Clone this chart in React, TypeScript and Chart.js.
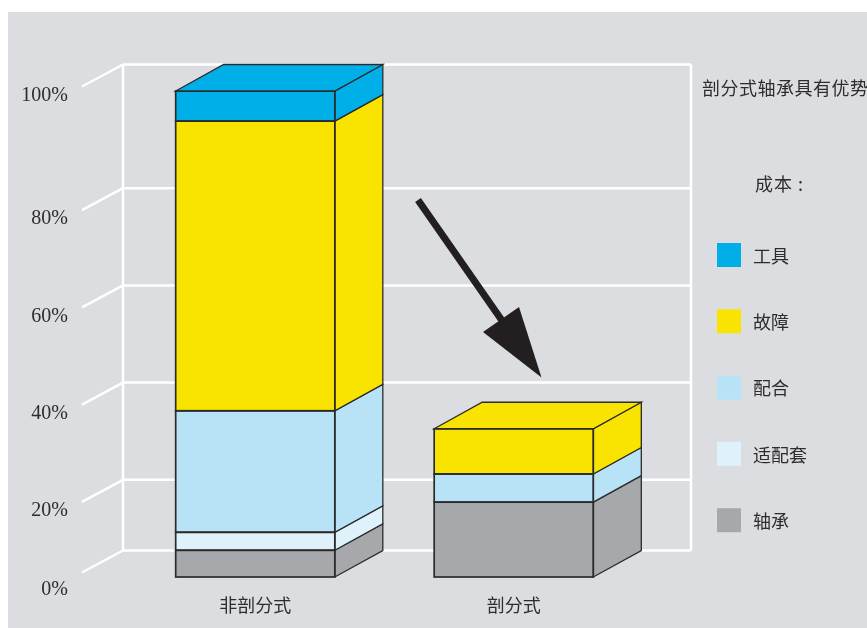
import React, { useEffect, useRef } from "react";
import { Chart, registerables } from "chart.js";

Chart.register(...registerables);

// ---- data ----
const CATEGORIES = ["非剖分式", "剖分式"];
const SERIES_NAMES = ["轴承", "适配套", "配合", "故障", "工具"]; // bottom -> top of stack
const SERIES_COLORS = ["#a7a8ab", "#dff1fa", "#b8e3f7", "#f9e300", "#00aee8"];
const BEARING = [5.5, 15.4];
const ADAPTER = [3.7, 0];
const FITTING = [25.0, 5.8];
const FAILURE = [59.6, 9.3];
const TOOLS = [6.2, 0];
const Y_TICKS = [0, 20, 40, 60, 80, 100];
const TITLE = "剖分式轴承具有优势";
const LEGEND_HEADER = "成本 :";

const SERIES_VALUES = [BEARING, ADAPTER, FITTING, FAILURE, TOOLS];

// ---- style ----
const DX = 48;
const DY = 26.5;
const OUTLINE = "#2b2b2b";
const TEXT = "#2d2d2d";
const CJK = '"Noto Sans CJK SC", "Noto Sans", sans-serif';

const threeD = {
  id: "threeD",
  beforeDraw(chart: any) {
    const { ctx, width, height } = chart;
    ctx.save();
    ctx.fillStyle = "#ffffff";
    ctx.fillRect(0, 0, width, height);
    ctx.fillStyle = "#dcdde0";
    ctx.fillRect(8, 12, width - 8, height - 12);
    ctx.restore();
  },
  beforeDatasetsDraw(chart: any) {
    const { ctx, chartArea: ca } = chart;
    const ys = chart.scales.y;
    const wallL = ca.left - 3;
    const wallR = ca.right + DX;
    const first = Y_TICKS[0];
    const last = Y_TICKS[Y_TICKS.length - 1];
    const gy = (v: number) =>
      v === first || v === last ? ys.getPixelForValue(v) - DY : ys.getPixelForValue(v);
    ctx.save();
    ctx.strokeStyle = "#ffffff";
    ctx.lineWidth = 2.5;
    ctx.lineCap = "butt";
    // verticals of the back wall
    ctx.beginPath();
    ctx.moveTo(wallL, gy(last));
    ctx.lineTo(wallL, gy(first));
    ctx.moveTo(wallR, gy(last));
    ctx.lineTo(wallR, gy(first));
    ctx.stroke();
    ctx.font = '20px "Liberation Serif", "DejaVu Serif", serif';
    ctx.fillStyle = TEXT;
    ctx.textAlign = "right";
    ctx.textBaseline = "middle";
    for (const v of Y_TICKS) {
      const y = gy(v);
      ctx.beginPath();
      ctx.moveTo(wallL, y);
      ctx.lineTo(wallR, y);
      ctx.moveTo(wallL, y);
      ctx.lineTo(wallL - 41, y + 22);
      ctx.stroke();
      ctx.fillText(v + "%", wallL - 55, y + (v === first ? 39 : 31));
    }
    ctx.restore();
  },
  afterDatasetsDraw(chart: any) {
    const { ctx } = chart;
    const metas = chart.data.datasets.map((_: any, i: number) => chart.getDatasetMeta(i));
    ctx.save();
    ctx.strokeStyle = OUTLINE;
    ctx.lineJoin = "miter";
    for (let c = 0; c < CATEGORIES.length; c++) {
      let topEl: any = null;
      let topColor = "";
      for (let d = 0; d < metas.length; d++) {
        const el = metas[d].data[c];
        if (!el || Math.abs(el.base - el.y) < 0.5) continue;
        const l = el.x - el.width / 2;
        const r = el.x + el.width / 2;
        const color = chart.data.datasets[d].backgroundColor;
        // side face
        ctx.lineWidth = 1.3;
        ctx.beginPath();
        ctx.moveTo(r, el.y);
        ctx.lineTo(r + DX, el.y - DY);
        ctx.lineTo(r + DX, el.base - DY);
        ctx.lineTo(r, el.base);
        ctx.closePath();
        ctx.fillStyle = color;
        ctx.fill();
        ctx.stroke();
        // front outline
        ctx.lineWidth = 1.7;
        ctx.strokeRect(l, el.y, el.width, el.base - el.y);
        topEl = el;
        topColor = color;
      }
      if (topEl) {
        const l = topEl.x - topEl.width / 2;
        const r = topEl.x + topEl.width / 2;
        ctx.lineWidth = 1.3;
        ctx.beginPath();
        ctx.moveTo(l, topEl.y);
        ctx.lineTo(l + DX, topEl.y - DY);
        ctx.lineTo(r + DX, topEl.y - DY);
        ctx.lineTo(r, topEl.y);
        ctx.closePath();
        ctx.fillStyle = topColor;
        ctx.fill();
        ctx.stroke();
      }
    }
    ctx.restore();
  },
  afterDraw(chart: any) {
    const { ctx, chartArea: ca } = chart;
    const xs = chart.scales.x;
    ctx.save();
    // category labels
    ctx.font = "18px " + CJK;
    ctx.fillStyle = TEXT;
    ctx.textAlign = "center";
    ctx.textBaseline = "middle";
    CATEGORIES.forEach((label, i) => {
      ctx.fillText(label, xs.getPixelForValue(i), ca.bottom + 28);
    });
    // arrow
    ctx.fillStyle = "#231f20";
    ctx.strokeStyle = "#231f20";
    ctx.lineWidth = 7;
    ctx.lineCap = "butt";
    ctx.beginPath();
    ctx.moveTo(418, 200);
    ctx.lineTo(503, 322);
    ctx.stroke();
    ctx.beginPath();
    ctx.moveTo(541.5, 377.5);
    ctx.lineTo(483, 332);
    ctx.lineTo(519, 307);
    ctx.closePath();
    ctx.fill();
    // title and legend
    ctx.fillStyle = TEXT;
    ctx.textAlign = "left";
    ctx.font = "18px " + CJK;
    (ctx as any).letterSpacing = "0.5px";
    ctx.fillText(TITLE, 702, 88);
    (ctx as any).letterSpacing = "1px";
    ctx.fillText(LEGEND_HEADER, 755, 184);
    (ctx as any).letterSpacing = "0px";
    const order = SERIES_NAMES.map((_, i) => i).reverse();
    order.forEach((d, k) => {
      const cy = 255 + k * 66.3;
      ctx.fillStyle = SERIES_COLORS[d];
      ctx.fillRect(717, cy - 12, 24, 24);
      ctx.fillStyle = TEXT;
      ctx.fillText(SERIES_NAMES[d], 753, cy + 1);
    });
    ctx.restore();
  },
};

export default function App() {
  const ref = useRef<HTMLCanvasElement | null>(null);
  useEffect(() => {
    if (!ref.current) return;
    const chart = new Chart(ref.current, {
      type: "bar",
      data: {
        labels: CATEGORIES,
        datasets: SERIES_NAMES.map((name, i) => ({
          label: name,
          data: SERIES_VALUES[i],
          backgroundColor: SERIES_COLORS[i],
          borderWidth: 0,
          categoryPercentage: 1,
          barPercentage: 0.6156,
        })),
      },
      options: {
        responsive: false,
        animation: false,
        devicePixelRatio: 1,
        layout: { padding: { left: 126, right: 224, top: 91, bottom: 51 } },
        scales: {
          x: { stacked: true, display: false },
          y: { stacked: true, display: false, min: 0, max: 100 },
        },
        plugins: { legend: { display: false }, tooltip: { enabled: false } },
      },
      plugins: [threeD],
    });
    return () => chart.destroy();
  }, []);
  return (
    <div style={{ position: "fixed", left: 0, top: 0, width: 867, height: 628 }}>
      <canvas ref={ref} width={867} height={628} style={{ display: "block" }} />
    </div>
  );
}
